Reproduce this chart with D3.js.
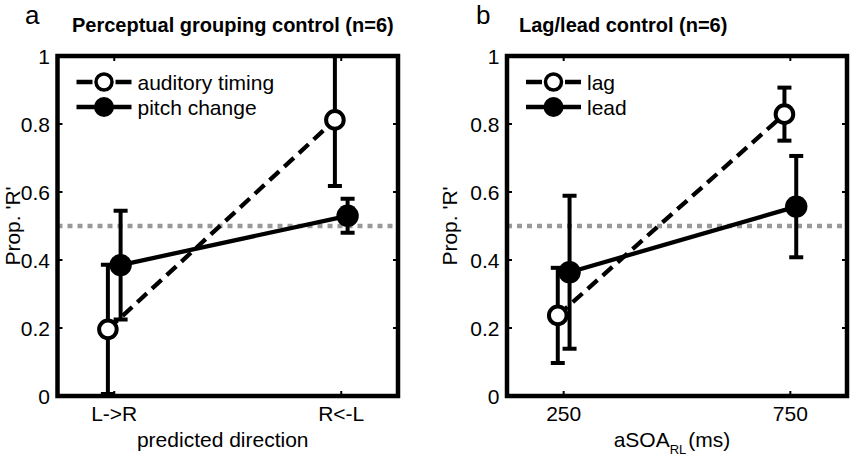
<!DOCTYPE html>
<html>
<head>
<meta charset="utf-8">
<script src="https://cdn.jsdelivr.net/npm/d3@7/dist/d3.min.js"></script>
<style>
  html, body { margin: 0; padding: 0; background: #fff; }
  svg { display: block; }
  text { font-family: "Liberation Sans", Arial, sans-serif; fill: #000; }
</style>
</head>
<body>
<svg id="chart" width="852" height="458"></svg>
<script>
// ---------- data ----------
const categoriesA = ["L->R", "R<-L"];
const xValuesA = [1, 2];
const timingMean = [0.196, 0.812];
const timingErr = [0.19, 0.194];
const pitchMean = [0.385, 0.53];
const pitchErr = [0.16, 0.05];

const xValuesB = [250, 750];
const tickLabelsB = ["250", "750"];
const lagMean = [0.237, 0.829];
const lagErr = [0.14, 0.078];
const leadMean = [0.364, 0.557];
const leadErr = [0.225, 0.149];

const yTicks = [0, 0.2, 0.4, 0.6, 0.8, 1];
const yTickLabels = ["0", "0.2", "0.4", "0.6", "0.8", "1"];
const chanceLevel = 0.5;

// ---------- layout ----------
const svg = d3.select("#chart");
const FONT = 21;

const panels = [
  {
    letter: "a", letterX: 25,
    title: "Perceptual grouping control (n=6)", titleX: 72,
    left: 57.5, right: 398,
    xDomain: [0.75, 2.25], xVals: xValuesA, xLabels: categoriesA, offset: 0.028,
    ylabelX: 20,
    xlabel: [{t: "predicted direction"}],
    series: [
      {name: "auditory timing", mean: timingMean, err: timingErr, open: true},
      {name: "pitch change", mean: pitchMean, err: pitchErr, open: false}
    ]
  },
  {
    letter: "b", letterX: 476,
    title: "Lag/lead control (n=6)", titleX: 519,
    left: 507, right: 847,
    xDomain: [125, 875], xVals: xValuesB, xLabels: tickLabelsB, offset: 13,
    ylabelX: 457,
    xlabel: [{t: "aSOA"}, {t: "RL", sub: true}, {t: "(ms)", after: true}],
    series: [
      {name: "lag", mean: lagMean, err: lagErr, open: true},
      {name: "lead", mean: leadMean, err: leadErr, open: false}
    ]
  }
];

const plotTop = 56, plotBottom = 396;
const y = d3.scaleLinear().domain([0, 1]).range([plotBottom, plotTop]);

panels.forEach((p, pi) => {
  const x = d3.scaleLinear().domain(p.xDomain).range([p.left, p.right]);
  const g = svg.append("g");

  // clip
  const clipId = "clip" + pi;
  svg.append("clipPath").attr("id", clipId)
    .append("rect").attr("x", p.left).attr("y", plotTop)
    .attr("width", p.right - p.left).attr("height", plotBottom - plotTop);

  const plot = g.append("g").attr("clip-path", `url(#${clipId})`);

  // chance line
  plot.append("line")
    .attr("x1", p.left).attr("x2", p.right)
    .attr("y1", y(chanceLevel)).attr("y2", y(chanceLevel))
    .attr("stroke", "#999").attr("stroke-width", 4.5)
    .attr("stroke-dasharray", "5,5");

  // series
  p.series.forEach((s, si) => {
    const off = s.open ? -p.offset : p.offset;
    const pts = p.xVals.map((xv, i) => ({x: xv + off, m: s.mean[i], e: s.err[i]}));
    const line = d3.line().x(d => x(d.x)).y(d => y(d.m));
    plot.append("path").datum(pts)
      .attr("d", line)
      .attr("fill", "none").attr("stroke", "#000").attr("stroke-width", 4.3)
      .attr("stroke-dasharray", s.open ? "13,7" : null);

    // error bars
    const eb = plot.append("g").attr("stroke", "#000").attr("stroke-width", 4);
    pts.forEach(d => {
      const cx = x(d.x);
      eb.append("line").attr("x1", cx).attr("x2", cx)
        .attr("y1", y(d.m - d.e)).attr("y2", y(d.m + d.e));
      [d.m - d.e, d.m + d.e].forEach(v => {
        eb.append("line").attr("x1", cx - 7).attr("x2", cx + 7)
          .attr("y1", y(v)).attr("y2", y(v));
      });
    });
  });
  // markers on top
  p.series.forEach(s => {
    const off = s.open ? -p.offset : p.offset;
    p.xVals.forEach((xv, i) => {
      plot.append("circle")
        .attr("cx", x(xv + off)).attr("cy", y(s.mean[i]))
        .attr("r", s.open ? 8.8 : 11.2)
        .attr("fill", s.open ? "#fff" : "#000")
        .attr("stroke", s.open ? "#000" : "none")
        .attr("stroke-width", 4);
    });
  });

  // box
  g.append("rect")
    .attr("x", p.left).attr("y", plotTop)
    .attr("width", p.right - p.left).attr("height", plotBottom - plotTop)
    .attr("fill", "none").attr("stroke", "#000").attr("stroke-width", 4.5)
    .attr("stroke-linejoin", "miter");

  // inward ticks (both sides)
  const tk = g.append("g").attr("stroke", "#000").attr("stroke-width", 2);
  yTicks.forEach(t => {
    tk.append("line").attr("x1", p.left).attr("x2", p.left + 5).attr("y1", y(t)).attr("y2", y(t));
    tk.append("line").attr("x1", p.right).attr("x2", p.right - 5).attr("y1", y(t)).attr("y2", y(t));
  });
  p.xVals.forEach(xv => {
    tk.append("line").attr("x1", x(xv)).attr("x2", x(xv)).attr("y1", plotBottom).attr("y2", plotBottom - 5);
    tk.append("line").attr("x1", x(xv)).attr("x2", x(xv)).attr("y1", plotTop).attr("y2", plotTop + 5);
  });

  // y tick labels
  yTicks.forEach((t, i) => {
    g.append("text").attr("x", p.left - 7.5).attr("y", y(t))
      .attr("text-anchor", "end").attr("dominant-baseline", "central")
      .attr("font-size", FONT).text(yTickLabels[i]);
  });
  // x tick labels
  p.xVals.forEach((xv, i) => {
    g.append("text").attr("x", x(xv)).attr("y", 421)
      .attr("text-anchor", "middle").attr("font-size", FONT).text(p.xLabels[i]);
  });

  // x label
  const cx = (p.left + p.right) / 2 - 5;
  const xl = g.append("text").attr("x", cx).attr("y", 447)
    .attr("text-anchor", "middle").attr("font-size", FONT);
  p.xlabel.forEach(part => {
    const ts = xl.append("tspan").text(part.t);
    if (part.sub) ts.attr("font-size", 13).attr("dy", 7);
    if (part.after) ts.attr("dy", -7).attr("dx", 2);
  });

  // y label
  g.append("text")
    .attr("transform", `translate(${p.ylabelX},${y(0.5)}) rotate(-90)`)
    .attr("text-anchor", "middle").attr("font-size", FONT).text("Prop. 'R'");

  // title
  g.append("text").attr("x", p.titleX).attr("y", 32)
    .attr("font-size", 20).attr("font-weight", "bold").text(p.title);
  // panel letter
  g.append("text").attr("x", p.letterX).attr("y", 23.5)
    .attr("font-size", 26).text(p.letter);

  // legend
  const lg = g.append("g");
  p.series.forEach((s, i) => {
    const ly = i === 0 ? 82 : 107;
    const x0 = p.left + 19, x1 = p.left + 74, cxl = (x0 + x1) / 2;
    lg.append("line").attr("x1", x0).attr("x2", x1).attr("y1", ly).attr("y2", ly)
      .attr("stroke", "#000").attr("stroke-width", 4.3)
      .attr("stroke-dasharray", s.open ? "16,23,16" : null);
    lg.append("circle").attr("cx", cxl).attr("cy", ly)
      .attr("r", s.open ? 8 : 10)
      .attr("fill", s.open ? "#fff" : "#000")
      .attr("stroke", s.open ? "#000" : "none").attr("stroke-width", 3.5);
    lg.append("text").attr("x", p.left + 80).attr("y", ly).attr("dy", "0.36em")
      .attr("font-size", FONT).text(s.name);
  });
});
</script>
</body>
</html>
